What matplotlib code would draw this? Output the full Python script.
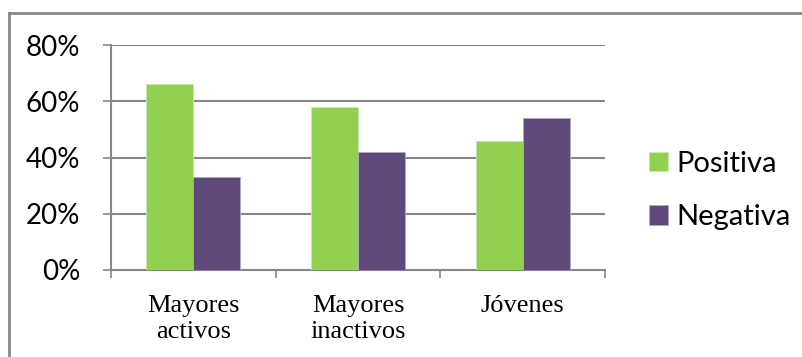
import matplotlib.pyplot as plt
from matplotlib.lines import Line2D
from matplotlib.ticker import FixedLocator
import numpy as np

categories = ["Mayores\nactivos", "Mayores\ninactivos", "Jóvenes"]
positiva = [66, 58, 46]
negativa = [33, 42, 54]
yticks = [0, 20, 40, 60, 80]

GREEN = "#92D050"
PURPLE = "#604A7B"
GRID = "#878787"

W, H = 802, 357
fig = plt.figure(figsize=(W / 100, H / 100), dpi=100)
ax = fig.add_axes((111 / W, 1 - 270 / H, (605 - 111) / W, (270 - 45) / H))

x = np.arange(len(categories))
width = 47 / 165
ax.bar(x - width / 2, positiva, width, color=GREEN, edgecolor="#c8ebae",
       linewidth=0.6, label="Positiva", zorder=3)
ax.bar(x + width / 2, negativa, width, color=PURPLE, edgecolor="#b3a8c2",
       linewidth=0.6, label="Negativa", zorder=3)

ax.set_xlim(-0.5, len(categories) - 0.5)
ax.set_ylim(0, 80)
ax.set_yticks(yticks)
ax.set_yticklabels([f"{v}%" for v in yticks], family="Lato", fontsize=20)
ax.yaxis.grid(True, color=GRID, linewidth=1.5)
ax.set_axisbelow(True)

ax.set_xticks(x)
ax.set_xticklabels(categories, family="Liberation Serif", fontsize=19,
                   linespacing=1.25)
ax.xaxis.set_minor_locator(FixedLocator(np.arange(len(categories) + 1) - 0.5))
ax.tick_params(axis="x", which="major", length=0, pad=18)
ax.tick_params(axis="x", which="minor", length=6, width=1.2, color=GRID)
ax.tick_params(axis="y", length=6, width=1.2, color=GRID, pad=16)

for side in ("top", "right"):
    ax.spines[side].set_visible(False)
for side in ("left", "bottom"):
    ax.spines[side].set_color(GRID)
    ax.spines[side].set_linewidth(1.5)

leg = fig.legend(loc="upper left", bbox_to_anchor=(637 / W, 1 - 139 / H),
                 frameon=False, prop={"family": "Lato", "size": 21},
                 handlelength=0.65, handleheight=0.65, handletextpad=0.3,
                 labelspacing=0.95, borderaxespad=0)

# chart area border: only the left and top edges fall inside the canvas
fig.add_artist(Line2D([9 / W, 9 / W], [0, 1 - 13 / H], color=GRID, linewidth=2))
fig.add_artist(Line2D([9 / W, 1], [1 - 13 / H, 1 - 13 / H], color=GRID, linewidth=2))

fig.savefig("out.png", dpi=100)
